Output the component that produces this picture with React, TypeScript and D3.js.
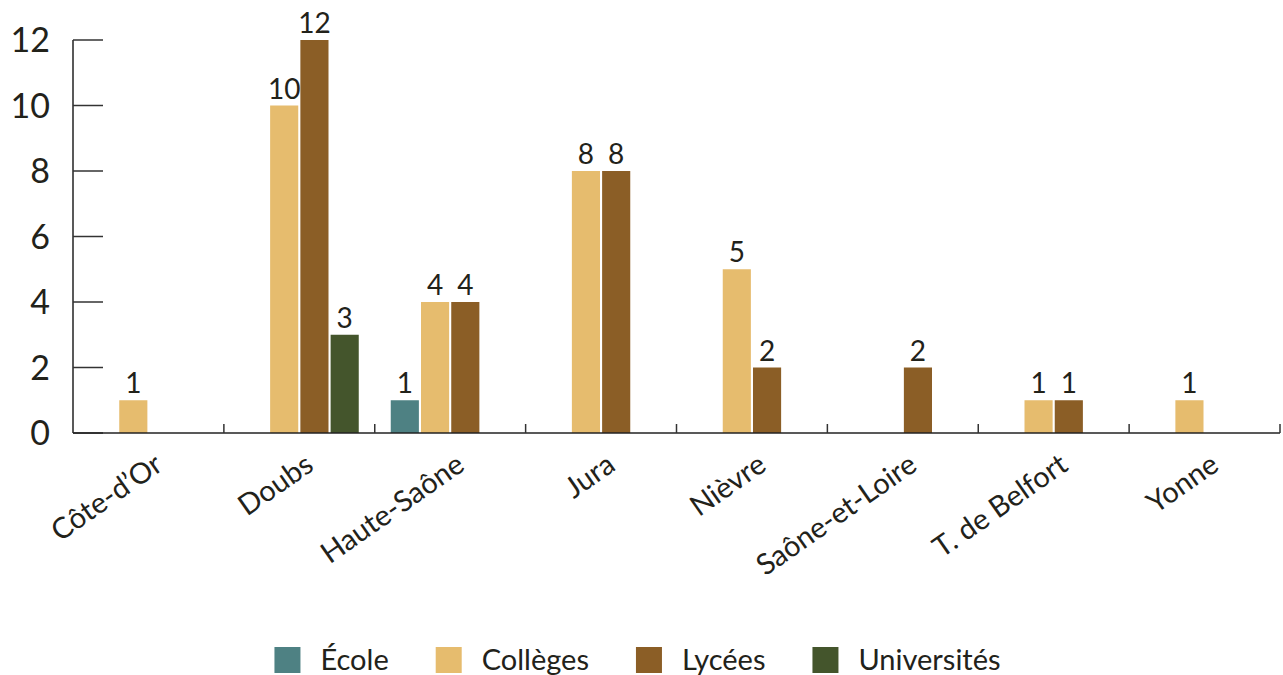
import React, { useEffect, useRef } from "react";
import * as d3 from "d3";

const categories = ["Côte-d’Or", "Doubs", "Haute-Saône", "Jura", "Nièvre", "Saône-et-Loire", "T. de Belfort", "Yonne"];
const seriesNames = ["École", "Collèges", "Lycées", "Universités"];
const ecole = [0, 0, 1, 0, 0, 0, 0, 0];
const colleges = [1, 10, 4, 8, 5, 0, 1, 1];
const lycees = [0, 12, 4, 8, 2, 2, 1, 0];
const universites = [0, 3, 0, 0, 0, 0, 0, 0];
const yTicks = [0, 2, 4, 6, 8, 10, 12];
const colors = ["#4e8183", "#e6bc6e", "#8b5e26", "#44552c"];

const W = 1283;
const H = 675;
const FONT = "Lato, 'Open Sans', sans-serif";
const TEXT = "#22221a";

export default function App() {
  const ref = useRef<SVGSVGElement>(null);

  useEffect(() => {
    const svg = d3.select(ref.current);
    svg.selectAll("*").remove();
    const values = [ecole, colleges, lycees, universites];

    const x0 = d3.scaleBand<string>().domain(categories).range([73, 1280]).padding(0);
    const groupPad = 16;
    const x1 = d3
      .scaleBand<string>()
      .domain(seriesNames)
      .range([groupPad, x0.bandwidth() - groupPad])
      .paddingInner(0.07);
    const y = d3.scaleLinear().domain([0, 12]).range([433, 40]);

    const g = svg.append("g");

    // bars
    categories.forEach((c, ci) => {
      seriesNames.forEach((s, si) => {
        const v = values[si][ci];
        if (!v) return;
        const bx = (x0(c) as number) + (x1(s) as number);
        g.append("rect")
          .attr("x", bx)
          .attr("y", y(v))
          .attr("width", x1.bandwidth())
          .attr("height", y(0) - y(v))
          .attr("fill", colors[si]);
        g.append("text")
          .attr("x", bx + x1.bandwidth() / 2)
          .attr("y", y(v) - 7)
          .attr("text-anchor", "middle")
          .attr("font-family", FONT)
          .attr("font-size", 28)
          .attr("fill", TEXT)
          .text(String(v));
      });
    });

    // y axis
    g.append("line")
      .attr("x1", 73).attr("x2", 73)
      .attr("y1", y(12)).attr("y2", y(0))
      .attr("stroke", "#222").attr("stroke-width", 1.5);
    yTicks.forEach((t) => {
      g.append("line")
        .attr("x1", 73).attr("x2", 103)
        .attr("y1", y(t)).attr("y2", y(t))
        .attr("stroke", "#333").attr("stroke-width", 1.5);
      g.append("text")
        .attr("x", 50)
        .attr("y", y(t))
        .attr("dy", "0.36em")
        .attr("text-anchor", "end")
        .attr("font-family", FONT)
        .attr("font-size", 34)
        .attr("fill", TEXT)
        .text(String(t));
    });

    // x axis
    g.append("line")
      .attr("x1", 73).attr("x2", 1280)
      .attr("y1", y(0)).attr("y2", y(0))
      .attr("stroke", "#222").attr("stroke-width", 1.5);
    categories.forEach((c) => {
      const xe = (x0(c) as number) + x0.bandwidth();
      g.append("line")
        .attr("x1", xe).attr("x2", xe)
        .attr("y1", y(0)).attr("y2", y(0) - 9)
        .attr("stroke", "#333").attr("stroke-width", 1.5);
      const cx = (x0(c) as number) + x0.bandwidth() / 2;
      g.append("text")
        .attr("transform", `translate(${cx + 16},${y(0) + 36}) rotate(-35)`)
        .attr("text-anchor", "end")
        .attr("font-family", FONT)
        .attr("font-size", 29)
        .attr("fill", TEXT)
        .text(c);
    });

    // legend
    const lg = svg.append("g");
    const sq = 26;
    const gapText = 20;
    const gapItem = 47;
    const items: { g: any; w: number }[] = [];
    seriesNames.forEach((s, si) => {
      const ig = lg.append("g");
      ig.append("rect").attr("x", 0).attr("y", 647).attr("width", sq).attr("height", sq).attr("fill", colors[si]);
      const t = ig.append("text")
        .attr("x", sq + gapText)
        .attr("y", 660)
        .attr("dy", "0.36em")
        .attr("font-family", FONT)
        .attr("font-size", 29)
        .attr("fill", TEXT)
        .text(s);
      const tw = (t.node() as SVGTextElement).getComputedTextLength();
      items.push({ g: ig, w: sq + gapText + tw });
    });
    const total = items.reduce((a, b) => a + b.w, 0) + gapItem * (items.length - 1);
    let cur = 637.5 - total / 2;
    items.forEach((it) => {
      it.g.attr("transform", `translate(${cur},0)`);
      cur += it.w + gapItem;
    });
  }, []);

  return (
    <svg
      ref={ref}
      width={W}
      height={H}
      style={{ position: "absolute", left: 0, top: 0, background: "#fff" }}
    />
  );
}
